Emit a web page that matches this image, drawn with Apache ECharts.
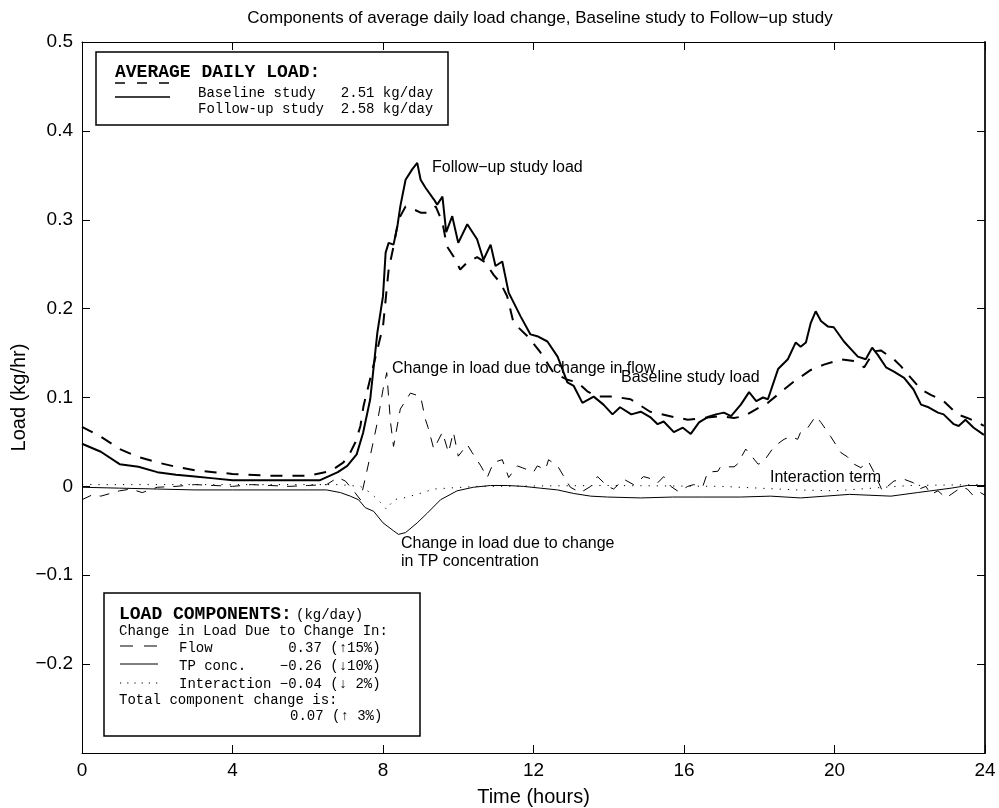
<!DOCTYPE html>
<html>
<head>
<meta charset="utf-8">
<script src="https://cdn.jsdelivr.net/npm/echarts@6/dist/echarts.min.js"></script>
<style>
  html, body { margin: 0; padding: 0; background: #fff; }
  #chart { width: 999px; height: 808px; }
</style>
</head>
<body>
<div id="chart"></div>
<script>
// Average hourly load over the day (kg/hr)
const followHours = [0, 0.5, 1.0, 1.5, 2.0, 2.5, 3.0, 3.5, 4.0, 5.0, 6.0, 6.33, 6.8, 7.05, 7.3, 7.47, 7.66, 7.85, 8.0, 8.07,
  8.15, 8.28, 8.38, 8.46, 8.6, 8.78, 8.91, 9.0, 9.13, 9.35, 9.44, 9.58, 9.68, 9.84, 10.0, 10.24, 10.5, 10.67, 10.86, 10.99,
  11.17, 11.34, 11.66, 11.92, 12.1, 12.37, 12.64, 12.9, 13.07, 13.3, 13.6, 13.86, 14.1, 14.3, 14.6, 14.85, 15.1, 15.3, 15.46, 15.73,
  15.97, 16.18, 16.4, 16.63, 16.85, 17.06, 17.25, 17.51, 17.73, 17.92, 18.1, 18.23, 18.5, 18.76, 18.97, 19.1, 19.24, 19.37, 19.5, 19.64,
  19.82, 19.98, 20.25, 20.62, 20.83, 21.0, 21.15, 21.37, 21.58, 21.85, 22.1, 22.3, 22.5, 22.75, 22.9, 23.17, 23.3, 23.48, 23.7, 23.97];
const followLoad = [0.048, 0.039, 0.025, 0.022, 0.016, 0.013, 0.011, 0.009, 0.007, 0.007, 0.007, 0.007, 0.016, 0.023, 0.036, 0.060, 0.098, 0.173, 0.214, 0.263,
  0.274, 0.272, 0.292, 0.315, 0.345, 0.357, 0.364, 0.345, 0.336, 0.323, 0.317, 0.326, 0.286, 0.304, 0.274, 0.295, 0.278, 0.255, 0.272, 0.248,
  0.253, 0.218, 0.191, 0.171, 0.169, 0.163, 0.146, 0.117, 0.113, 0.094, 0.101, 0.092, 0.081, 0.089, 0.081, 0.084, 0.078, 0.070, 0.073, 0.061,
  0.066, 0.059, 0.072, 0.078, 0.081, 0.083, 0.079, 0.092, 0.106, 0.096, 0.100, 0.098, 0.132, 0.143, 0.162, 0.157, 0.162, 0.184, 0.197, 0.186,
  0.180, 0.179, 0.163, 0.146, 0.143, 0.156, 0.148, 0.134, 0.129, 0.122, 0.109, 0.092, 0.089, 0.083, 0.081, 0.070, 0.068, 0.075, 0.066, 0.058];

const baseHours = [0, 0.5, 1.0, 1.5, 2.0, 2.5, 3.0, 3.5, 4.0, 5.0, 6.0, 6.6, 6.95, 7.13, 7.27, 7.4, 7.48, 8.0, 8.15, 8.28,
  8.41, 8.6, 8.8, 9.0, 9.2, 9.4, 9.58, 9.7, 9.87, 10.05, 10.24, 10.5, 10.72, 10.94, 11.12, 11.3, 11.47, 11.84, 12.18, 12.53,
  12.9, 13.17, 13.43, 13.7, 14.13, 14.58, 15.1, 15.73, 16.1, 16.52, 16.97, 17.33, 17.6, 17.97, 18.23, 18.57, 18.92, 19.37, 19.72, 20.17,
  20.52, 20.79, 21.05, 21.23, 21.58, 21.77, 22.03, 22.3, 22.56, 22.9, 23.27, 23.53, 23.8, 23.97];
const baseLoad = [0.067, 0.056, 0.042, 0.033, 0.027, 0.022, 0.018, 0.016, 0.014, 0.012, 0.012, 0.017, 0.027, 0.038, 0.050, 0.068, 0.090, 0.180, 0.244, 0.270,
  0.300, 0.315, 0.312, 0.308, 0.308, 0.315, 0.297, 0.270, 0.259, 0.244, 0.252, 0.258, 0.252, 0.238, 0.229, 0.214, 0.184, 0.169, 0.151, 0.128,
  0.120, 0.117, 0.107, 0.101, 0.101, 0.098, 0.084, 0.078, 0.075, 0.077, 0.079, 0.077, 0.079, 0.088, 0.094, 0.106, 0.118, 0.131, 0.137, 0.143,
  0.141, 0.134, 0.152, 0.153, 0.143, 0.135, 0.122, 0.109, 0.103, 0.096, 0.081, 0.077, 0.072, 0.068];

// Load change components (kg/hr)
const flowHours = [0, 0.3, 0.5, 1.0, 1.3, 1.6, 2.0, 2.5, 3.0, 3.5, 4.0, 4.5, 5.0, 5.5, 6.0, 6.5, 6.8, 7.0, 7.2, 7.4,
  7.66, 7.85, 8.0, 8.1, 8.2, 8.28, 8.46, 8.73, 9.0, 9.13, 9.2, 9.35, 9.58, 9.74, 9.87, 10.0, 10.24, 10.37, 10.6, 10.77,
  10.94, 11.17, 11.34, 11.57, 11.7, 12.0, 12.1, 12.32, 12.4, 12.64, 12.85, 12.98, 13.25, 13.52, 13.7, 13.97, 14.13, 14.4, 14.66, 14.93,
  15.17, 15.3, 15.46, 15.65, 15.86, 16.1, 16.26, 16.5, 16.63, 16.9, 16.97, 17.33, 17.42, 17.64, 17.97, 18.1, 18.4, 18.66, 18.84, 19.02,
  19.1, 19.29, 19.5, 19.64, 19.9, 20.17, 20.35, 20.52, 20.7, 20.9, 21.05, 21.27, 21.58, 21.85, 22.1, 22.25, 22.43, 22.56, 22.75, 22.96,
  23.1, 23.37, 23.53, 23.7, 23.88, 24.0];
const flowChange = [-0.015, -0.009, -0.011, -0.005, -0.003, -0.007, -0.001, 0.000, 0.002, 0.001, 0.000, 0.002, 0.001, 0.000, 0.001, 0.002, 0.010, 0.006, -0.004, -0.015,
  0.034, 0.072, 0.109, 0.128, 0.072, 0.045, 0.087, 0.105, 0.101, 0.075, 0.066, 0.042, 0.061, 0.038, 0.061, 0.034, 0.047, 0.038, 0.023, 0.010,
  0.027, 0.030, 0.010, 0.023, 0.021, 0.016, 0.023, 0.019, 0.030, 0.023, 0.008, -0.001, -0.007, 0.000, 0.011, 0.000, -0.003, 0.008, 0.002, 0.011,
  0.008, 0.004, 0.011, 0.000, -0.006, 0.000, 0.002, 0.000, 0.016, 0.017, 0.022, 0.022, 0.025, 0.042, 0.025, 0.027, 0.045, 0.053, 0.056, 0.053,
  0.061, 0.066, 0.079, 0.072, 0.056, 0.038, 0.033, 0.025, 0.021, 0.028, 0.016, -0.005, 0.006, 0.008, 0.004, -0.003, 0.000, -0.009, -0.005, -0.013,
  -0.009, -0.001, -0.003, -0.011, -0.007, -0.010];

const tpHours = [0, 1, 2, 3, 4, 5, 6, 6.5, 6.87, 7.13, 7.35, 7.53, 7.75, 8.0, 8.28, 8.41, 8.6, 8.91, 9.18, 9.53,
  9.97, 10.4, 10.86, 11.3, 11.73, 12.18, 12.64, 13.07, 13.52, 13.97, 14.85, 15.7, 16.5, 17.5, 18.3, 19.1, 20.4, 21.5, 22.2, 23.1,
  23.53, 24.0];
const tpChange = [-0.001, -0.002, -0.003, -0.004, -0.004, -0.004, -0.004, -0.004, -0.007, -0.011, -0.015, -0.024, -0.028, -0.041, -0.050, -0.054, -0.052, -0.041, -0.030, -0.015,
  -0.005, -0.001, 0.001, 0.001, 0.000, -0.002, -0.004, -0.008, -0.011, -0.012, -0.013, -0.012, -0.012, -0.012, -0.011, -0.013, -0.009, -0.011, -0.007, -0.002,
  0.001, 0.001];

const interHours = [0, 3, 6.8, 7.4, 7.66, 7.93, 8.1, 8.28, 8.55, 8.9, 9.35, 9.7, 10.5, 14, 17, 18, 19, 20, 21, 22, 24];
const interChange = [0.002, 0.002, 0.002, 0.000, -0.007, -0.018, -0.026, -0.015, -0.013, -0.009, -0.003, -0.002, 0.000, 0.001, 0.000, -0.002, -0.004, -0.005, -0.002, 0.001, 0.002];

// Axis ticks
const hourTicks = [0, 4, 8, 12, 16, 20, 24];
const loadTicks = [-0.2, -0.1, 0, 0.1, 0.2, 0.3, 0.4, 0.5];

const pair = (xs, ys) => xs.map((x, i) => [x, ys[i]]);
const minus = s => s.replace('-', '\u2212');

const SANS = '"Liberation Sans", Arial, Helvetica, sans-serif';
const MONO = '"Liberation Mono", "Courier New", Courier, monospace';

const chart = echarts.init(document.getElementById('chart'), null, { renderer: 'canvas' });

const lineSeries = (name, xs, ys, width, dash) => ({
  name, type: 'line', data: pair(xs, ys), showSymbol: false, symbol: 'none',
  silent: true, animation: false,
  lineStyle: { color: '#000', width, type: dash || 'solid' }
});

// Boxed frame: every side carries inward ticks
const frameAxis = (lineWidth, color) => ({
  axisLine: { show: true, onZero: false, lineStyle: { color: color || '#000', width: lineWidth || 1 } },
  axisTick: { show: true, inside: true, length: 8, lineStyle: { color: '#000', width: 1 } },
  splitLine: { show: false }
});

const textEl = (x, y, text, font, extra) => ({
  type: 'text', x, y, silent: true,
  style: Object.assign({ text, font, fill: '#000', textVerticalAlign: 'middle', verticalAlign: 'middle' }, extra || {})
});
const lineEl = (x1, y1, x2, y2, width, dash) => ({
  type: 'line', silent: true, shape: { x1, y1, x2, y2 },
  style: { stroke: '#000', lineWidth: width, lineDash: dash || null }
});

const option = {
  animation: false,
  backgroundColor: '#fff',
  title: {
    text: 'Components of average daily load change, Baseline study to Follow\u2212up study',
    left: 535, top: 5, textAlign: 'center',
    textStyle: { fontFamily: SANS, fontSize: 17, fontWeight: 'normal', color: '#000' }
  },
  grid: { left: 82, right: 14, top: 42, bottom: 55, containLabel: false, outerBoundsMode: 'none' },
  xAxis: [
    Object.assign(frameAxis(), {
      type: 'value', min: 0, max: 24, interval: 4, position: 'bottom',
      name: 'Time (hours)', nameLocation: 'middle', nameGap: 34, nameMoveOverlap: false,
      nameTextStyle: { fontFamily: SANS, fontSize: 20, color: '#000' },
      axisLabel: { fontFamily: SANS, fontSize: 19, color: '#000', margin: 8,
        formatter: v => hourTicks.includes(v) ? String(v) : '' }
    }),
    Object.assign(frameAxis(), {
      type: 'value', min: 0, max: 24, interval: 4, position: 'top',
      axisLabel: { show: false }
    })
  ],
  yAxis: [
    Object.assign(frameAxis(), {
      type: 'value', min: -0.3, max: 0.5, interval: 0.1, position: 'left',
      name: 'Load (kg/hr)', nameLocation: 'middle', nameGap: 53, nameMoveOverlap: false,
      nameTextStyle: { fontFamily: SANS, fontSize: 20, color: '#000' },
      axisLabel: { fontFamily: SANS, fontSize: 19, color: '#000', margin: 9,
        formatter: v => {
          const r = Math.round(v * 10) / 10;
          return loadTicks.some(t => Math.abs(t - r) < 1e-9) ? minus(String(r)) : '';
        } }
    }),
    Object.assign(frameAxis(2, '#222'), {
      type: 'value', min: -0.3, max: 0.5, interval: 0.1, position: 'right',
      axisLabel: { show: false }
    })
  ],
  series: [
    lineSeries('Flow', flowHours, flowChange, 1, [10, 9]),
    lineSeries('TP conc.', tpHours, tpChange, 1),
    lineSeries('Interaction', interHours, interChange, 1, [1.2, 7]),
    lineSeries('Baseline study', baseHours, baseLoad, 2, [12, 10]),
    lineSeries('Follow-up study', followHours, followLoad, 2)
  ],
  graphic: [
    // Curve annotations
    textEl(432, 168, 'Follow\u2212up study load', '16px ' + SANS),
    textEl(392, 369, 'Change in load due to change in flow', '16px ' + SANS),
    textEl(621, 378, 'Baseline study load', '16px ' + SANS),
    textEl(770, 478, 'Interaction term', '16px ' + SANS),
    textEl(401, 544, 'Change in load due to change', '16px ' + SANS),
    textEl(401, 562, 'in TP concentration', '16px ' + SANS),

    // Average daily load box
    { type: 'rect', silent: true, shape: { x: 96, y: 52, width: 352, height: 73 },
      style: { fill: '#fff', stroke: '#000', lineWidth: 1.5 } },
    textEl(115, 72, 'AVERAGE DAILY LOAD:', 'bold 18px ' + MONO),
    lineEl(115, 83, 170, 83, 1.5, [10, 12]),
    lineEl(115, 97, 170, 97, 1.5),
    textEl(198, 93, 'Baseline study   2.51 kg/day', '14px ' + MONO),
    textEl(198, 109, 'Follow-up study  2.58 kg/day', '14px ' + MONO),

    // Load components box
    { type: 'rect', silent: true, shape: { x: 104, y: 593, width: 316, height: 143 },
      style: { fill: '#fff', stroke: '#000', lineWidth: 1.5 } },
    textEl(119, 614, 'LOAD COMPONENTS:', 'bold 18px ' + MONO),
    textEl(296, 615, '(kg/day)', '14px ' + MONO),
    textEl(119, 631, 'Change in Load Due to Change In:', '14px ' + MONO),
    lineEl(120, 646, 158, 646, 1, [13, 11]),
    textEl(179, 648, 'Flow         0.37 (\u219115%)', '14px ' + MONO),
    lineEl(120, 664, 158, 664, 1),
    textEl(179, 666, 'TP conc.    \u22120.26 (\u219310%)', '14px ' + MONO),
    lineEl(120, 683, 158, 683, 1, [1.2, 6]),
    textEl(179, 684, 'Interaction \u22120.04 (\u2193 2%)', '14px ' + MONO),
    textEl(119, 700, 'Total component change is:', '14px ' + MONO),
    textEl(290, 716, '0.07 (\u2191 3%)', '14px ' + MONO)
  ]
};

chart.setOption(option);
</script>
</body>
</html>
